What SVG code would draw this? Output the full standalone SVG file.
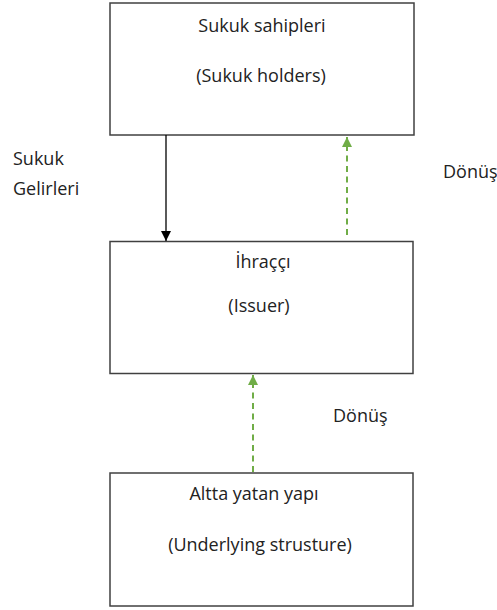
<svg xmlns="http://www.w3.org/2000/svg" width="497" height="610" viewBox="0 0 497 610">
  <style>
    .box { fill: #ffffff; stroke: #404040; stroke-width: 1.5; }
    .lbl { font-family: "Open Sans", "Noto Sans", "DejaVu Sans", sans-serif; font-size: 18px; fill: #222222; }
    .mid { text-anchor: middle; }
    .flow { stroke: #000000; stroke-width: 1.3; fill: none; }
    .ret { stroke: #70AD47; stroke-width: 2; stroke-dasharray: 6 4.5; fill: none; }
  </style>
  <defs>
    <marker id="headBlack" viewBox="0 0 10 10" refX="10" refY="5" markerWidth="10" markerHeight="10" markerUnits="userSpaceOnUse" orient="auto">
      <path d="M0,0 L10,5 L0,10 Z" fill="#000000"/>
    </marker>
    <marker id="headGreen" viewBox="0 0 10 10" refX="10" refY="5" markerWidth="12" markerHeight="10" markerUnits="userSpaceOnUse" orient="auto">
      <path d="M0,0 L10,5 L0,10 Z" fill="#70AD47"/>
    </marker>
  </defs>

  <rect width="497" height="610" fill="#ffffff"/>

  <g id="node-holders">
    <rect class="box" x="110" y="3" width="304" height="132"/>
    <text class="lbl mid" x="262" y="32">Sukuk sahipleri</text>
    <text class="lbl mid" x="261" y="82">(Sukuk holders)</text>
  </g>

  <g id="node-issuer">
    <rect class="box" x="110" y="241.5" width="303" height="132"/>
    <text class="lbl mid" x="263" y="268">İhraççı</text>
    <text class="lbl mid" x="259" y="312">(Issuer)</text>
  </g>

  <g id="node-underlying">
    <rect class="box" x="110" y="473" width="303" height="133"/>
    <text class="lbl mid" x="254" y="500">Altta yatan yapı</text>
    <text class="lbl mid" x="260" y="551">(Underlying strusture)</text>
  </g>

  <g id="connectors">
    <line class="flow" x1="166" y1="135" x2="166" y2="241" marker-end="url(#headBlack)"/>
    <line class="ret" x1="347" y1="235" x2="347" y2="137" marker-end="url(#headGreen)"/>
    <line class="ret" x1="253" y1="472" x2="253" y2="375" marker-end="url(#headGreen)"/>
  </g>

  <g id="labels">
    <text class="lbl" x="13" y="165">Sukuk</text>
    <text class="lbl" x="13" y="195">Gelirleri</text>
    <text class="lbl" x="443" y="178">Dönüş</text>
    <text class="lbl" x="333" y="422">Dönüş</text>
  </g>
</svg>
